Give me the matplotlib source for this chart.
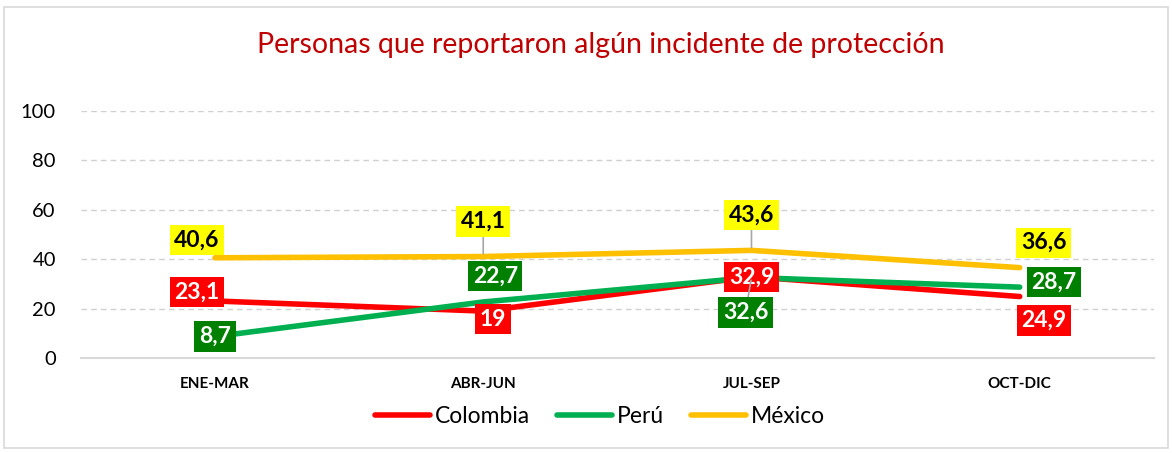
import matplotlib.pyplot as plt
from matplotlib.patches import Rectangle

periods = ["ENE-MAR", "ABR-JUN", "JUL-SEP", "OCT-DIC"]
colombia = [23.1, 19, 32.9, 24.9]
peru = [8.7, 22.7, 32.6, 28.7]
mexico = [40.6, 41.1, 43.6, 36.6]
yticks = [0, 20, 40, 60, 80, 100]

FONT = ["Lato", "DejaVu Sans"]
plt.rcParams["font.family"] = FONT


def fmt(v):
    s = f"{v:.1f}".replace(".", ",")
    return s[:-2] if s.endswith(",0") else s


fig = plt.figure(figsize=(11.72, 4.53), dpi=100)
ax = fig.add_axes([0.069, 0.2097, 0.9155, 0.545])

# light border around the whole chart
fig.patches.append(Rectangle((0.003, 0.01), 0.994, 0.975, transform=fig.transFigure,
                             fill=False, edgecolor="#D9D9D9", linewidth=1.2))

x = range(len(periods))
series = [
    ("Colombia", colombia, "#FF0000", "#FF0000", "white",
     [(-18, 9), (10, -8), (0, 0), (24, -24)]),
    ("Perú", peru, "#00B050", "#008000", "white",
     [(0, 0), (12, 26), (-6, -35), (34, 5)]),
    ("México", mexico, "#FFC000", "#FFFF00", "black",
     [(-18, 18), (0, 35), (0, 35), (24, 25)]),
]

for name, vals, lc, bc, tc, offs in series:
    ax.plot(x, vals, color=lc, linewidth=4, solid_capstyle="round", label=name, zorder=3)

for name, vals, lc, bc, tc, offs in series:
    for i, v in enumerate(vals):
        dx, dy = offs[i]
        leader = abs(dy) > 30
        ax.annotate(
            fmt(v), xy=(i, v), xytext=(dx * 0.72, dy * 0.72), textcoords="offset points",
            ha="center", va="center", fontsize=16.5, fontweight="bold", color=tc,
            bbox=dict(boxstyle="square,pad=0.2", fc=bc, ec="none"),
            arrowprops=dict(arrowstyle="-", color="#A6A6A6", lw=1.2, shrinkA=0, shrinkB=2)
            if leader else None,
            zorder=5,
        )

ax.set_xlim(-0.5, len(periods) - 0.5)
ax.set_ylim(0, 100)
ax.set_yticks(yticks)
ax.set_yticklabels([str(t) for t in yticks], fontsize=14.5)
ax.set_xticks(list(x))
ax.set_xticklabels(periods, fontsize=11, fontweight="bold")
ax.tick_params(length=0)
ax.tick_params(axis="x", pad=14)
ax.tick_params(axis="y", pad=18)
ax.grid(axis="y", color="#D0D0D0", linestyle=(0, (4, 3)), linewidth=1)
for s in ["top", "right", "left"]:
    ax.spines[s].set_visible(False)
ax.spines["bottom"].set_color("#D9D9D9")
ax.spines["bottom"].set_linewidth(1.5)
ax.set_axisbelow(True)

fig.text(0.513, 0.9, "Personas que reportaron algún incidente de protección",
         ha="center", va="center", fontsize=20.5, color="#C00000")

fig.legend(loc="center", bbox_to_anchor=(0.512, 0.08), ncol=3, frameon=False,
           fontsize=16.5, handlelength=2.4, handletextpad=0.2, columnspacing=1.2)

fig.savefig("out.png", dpi=100)
